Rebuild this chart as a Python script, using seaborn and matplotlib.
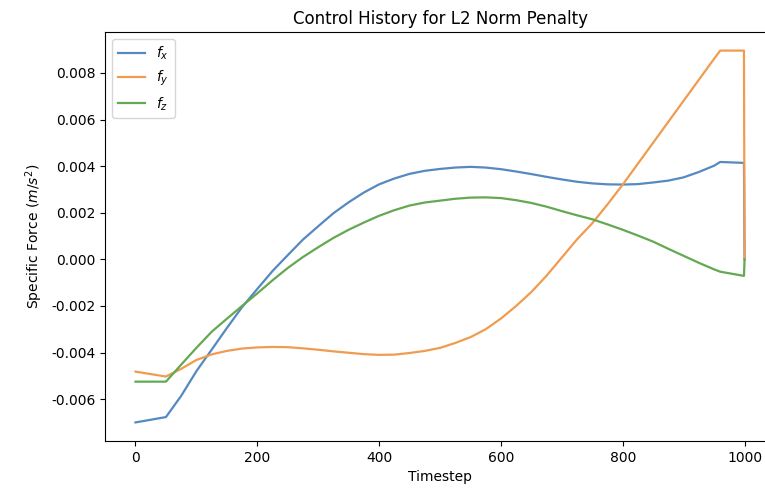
import matplotlib
matplotlib.use("Agg")
import matplotlib.pyplot as plt
import seaborn as sns

timestep = [0, 50, 75, 100, 125, 150, 175, 200, 225, 250, 275, 300, 325, 350,
            375, 400, 425, 450, 475, 500, 525, 550, 575, 600, 625, 650, 675,
            700, 725, 750, 775, 800, 825, 850, 875, 900, 925, 950, 960, 999,
            1000]

fx = [-0.00700, -0.00677, -0.00586, -0.00480, -0.00388, -0.00295, -0.00205,
      -0.00127, -0.00050, 0.00018, 0.00085, 0.00142, 0.00198, 0.00245,
      0.00287, 0.00322, 0.00347, 0.00367, 0.00380, 0.00388, 0.00394,
      0.00397, 0.00394, 0.00387, 0.00377, 0.00366, 0.00354, 0.00343,
      0.00333, 0.00326, 0.00322, 0.00321, 0.00323, 0.00330, 0.00338,
      0.00352, 0.00375, 0.00402, 0.00418, 0.00414, 0.0]

fy = [-0.00482, -0.00503, -0.00470, -0.00432, -0.00408, -0.00393, -0.00383,
      -0.00378, -0.00376, -0.00377, -0.00382, -0.00388, -0.00395, -0.00401,
      -0.00407, -0.00410, -0.00409, -0.00402, -0.00393, -0.00380, -0.00359,
      -0.00334, -0.00300, -0.00254, -0.00200, -0.00140, -0.00070, 0.00008,
      0.00086, 0.00155, 0.00236, 0.00321, 0.00411, 0.00501, 0.00591,
      0.00681, 0.00771, 0.00861, 0.00896, 0.00896, 0.0]

fz = [-0.00525, -0.00525, -0.00452, -0.00380, -0.00311, -0.00255, -0.00200,
      -0.00146, -0.00090, -0.00037, 0.00010, 0.00052, 0.00092, 0.00127,
      0.00158, 0.00187, 0.00211, 0.00231, 0.00244, 0.00252, 0.00260,
      0.00265, 0.00266, 0.00263, 0.00254, 0.00242, 0.00226, 0.00207,
      0.00189, 0.00172, 0.00150, 0.00127, 0.00102, 0.00076, 0.00045,
      0.00015, -0.00015, -0.00043, -0.00053, -0.00071, 0.0]

labels = ["$f_x$", "$f_y$", "$f_z$"]
colors = ["#5589c0", "#f09c50", "#64a852"]

fig = plt.figure(figsize=(7.65, 4.91), dpi=100)
ax = fig.add_axes([0.1373, 0.1018, 0.8758, 0.833])

for series, lab, col in zip([fx, fy, fz], labels, colors):
    sns.lineplot(x=timestep, y=series, label=lab, color=col, ax=ax,
                 linewidth=1.6, sort=False)

ax.set_xlim(-50, 1050)
ax.set_xticks([0, 200, 400, 600, 800, 1000])
ax.set_yticks([-0.006, -0.004, -0.002, 0.0, 0.002, 0.004, 0.006, 0.008])
ax.yaxis.set_major_formatter(matplotlib.ticker.FormatStrFormatter("%.3f"))
ax.spines["right"].set_visible(False)
ax.set_title("Control History for L2 Norm Penalty", fontsize=12)
ax.set_xlabel("Timestep")
ax.set_ylabel("Specific Force ($m/s^2$)")
ax.legend(loc="upper left")

fig.savefig("out.png", dpi=100)
